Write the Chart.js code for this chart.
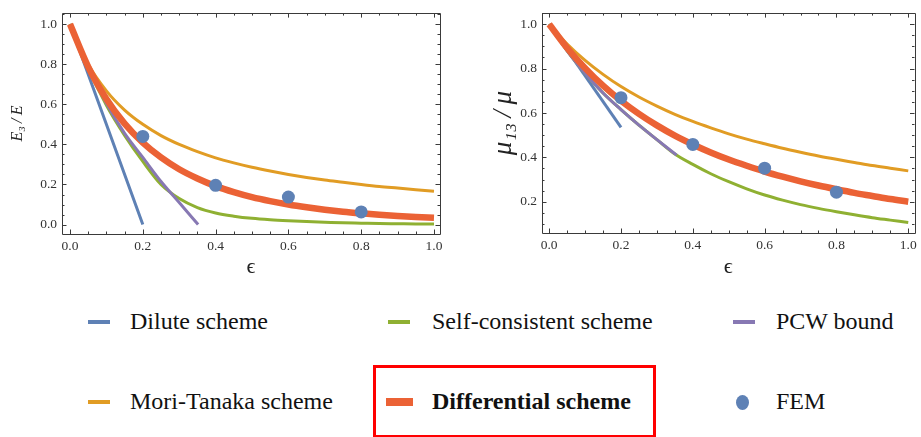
<!DOCTYPE html>
<html>
<head>
<meta charset="utf-8">
<script src="https://cdn.jsdelivr.net/npm/chart.js@4"></script>
<style>
  html, body { margin: 0; padding: 0; background: #fff; }
  body { width: 921px; height: 437px; position: relative; overflow: hidden; font-family: "Liberation Serif", "DejaVu Serif", serif; }
  canvas { position: absolute; top: 0; }
  #c1 { left: 0; }
  #c2 { left: 450px; }
  .leg { position: absolute; font-family: "Liberation Serif", "DejaVu Serif", serif; font-size: 24px; color: #111; line-height: 1; white-space: nowrap; }
  .mk { position: absolute; }
  #box { position: absolute; left: 373px; top: 365px; width: 277px; height: 67px; border: 3px solid #ff0000; }
</style>
</head>
<body>
<canvas id="c1" width="450" height="280"></canvas>
<canvas id="c2" width="471" height="280"></canvas>
<div id="legend"></div>
<div id="box"></div>
<script>
// ---------- data ----------
const seriesNames = ["Dilute scheme", "Self-consistent scheme", "PCW bound", "Mori-Tanaka scheme", "Differential scheme", "FEM"];
const seriesColors = ["#5E81B5", "#8FB032", "#8778B3", "#E19C24", "#EB6235", "#5E81B5"];

const epsGrid = [0, 0.05, 0.1, 0.15, 0.2, 0.25, 0.3, 0.35, 0.4, 0.45, 0.5, 0.55, 0.6, 0.65, 0.7, 0.75, 0.8, 0.85, 0.9, 0.95, 1.0];
const femEps = [0.2, 0.4, 0.6, 0.8];

// Left panel: E3/E
const E_diluteEps = [0, 0.2];
const E_dilute = [1, 0];
const E_selfConsistent = [1, 0.78, 0.595, 0.445, 0.315, 0.2, 0.13, 0.085, 0.058, 0.042, 0.031, 0.024, 0.019, 0.015, 0.012, 0.009, 0.007, 0.005, 0.004, 0.003, 0.003];
const E_pcwEps = [0, 0.05, 0.1, 0.15, 0.2, 0.25, 0.3, 0.352];
const E_pcw = [1, 0.79, 0.605, 0.455, 0.335, 0.215, 0.11, 0];
const E_moriTanaka = [1, 0.8, 0.667, 0.571, 0.5, 0.444, 0.4, 0.364, 0.333, 0.308, 0.286, 0.267, 0.25, 0.235, 0.222, 0.211, 0.2, 0.19, 0.182, 0.174, 0.166];
const E_differential = [1, 0.787, 0.627, 0.504, 0.409, 0.335, 0.276, 0.23, 0.192, 0.162, 0.137, 0.117, 0.1, 0.086, 0.074, 0.064, 0.056, 0.049, 0.043, 0.038, 0.034];
const E_fem = [0.44, 0.196, 0.137, 0.063];

// Right panel: mu13/mu
const M_diluteEps = [0, 0.2];
const M_dilute = [1, 0.535];
const M_selfConsistent = [1, 0.88, 0.78, 0.69, 0.615, 0.545, 0.48, 0.415, 0.368, 0.326, 0.29, 0.258, 0.23, 0.207, 0.187, 0.17, 0.155, 0.141, 0.128, 0.117, 0.106];
const M_pcwEps = [0, 0.05, 0.1, 0.15, 0.2, 0.25, 0.3, 0.355];
const M_pcw = [1, 0.88, 0.78, 0.69, 0.615, 0.545, 0.48, 0.41];
const M_moriTanaka = [1, 0.911, 0.837, 0.774, 0.719, 0.672, 0.631, 0.594, 0.562, 0.533, 0.506, 0.482, 0.461, 0.441, 0.423, 0.406, 0.391, 0.377, 0.363, 0.351, 0.339];
const M_differential = [1, 0.893, 0.802, 0.723, 0.655, 0.596, 0.544, 0.498, 0.458, 0.422, 0.39, 0.362, 0.336, 0.313, 0.292, 0.273, 0.256, 0.24, 0.226, 0.212, 0.2];
const M_fem = [0.669, 0.458, 0.351, 0.243];

// tick labels
const xTickValues = [0, 0.2, 0.4, 0.6, 0.8, 1.0];
const yTickValuesLeft = [0, 0.2, 0.4, 0.6, 0.8, 1.0];
const yTickValuesRight = [0.2, 0.4, 0.6, 0.8, 1.0];
const minorStep = 0.05;

// ---------- helpers ----------
const pts = (xs, ys) => xs.map((x, i) => ({ x: x, y: ys[i] }));
const SERIF = "'Liberation Serif', 'Times New Roman', serif";

function lineDs(i, xs, ys, width, order) {
  return {
    label: seriesNames[i], data: pts(xs, ys), showLine: true,
    borderColor: seriesColors[i], backgroundColor: seriesColors[i],
    borderWidth: width, pointRadius: 0, borderCapStyle: 'butt',
    cubicInterpolationMode: 'monotone', order: order
  };
}

const frameTicks = {
  id: 'frameTicks',
  afterDatasetsDraw(chart) {
    const { ctx, chartArea: a, scales } = chart;
    const xs = scales.x, ys = scales.y;
    ctx.save();
    ctx.strokeStyle = '#3a3a3a';
    ctx.lineWidth = 1;
    ctx.beginPath();
    ctx.rect(Math.round(a.left) + 0.5, Math.round(a.top) + 0.5, Math.round(a.right - a.left), Math.round(a.bottom - a.top));
    ctx.stroke();
    ctx.beginPath();
    const eps = 1e-6;
    for (let v = Math.ceil(xs.min / minorStep) * minorStep; v <= xs.max + eps; v += minorStep) {
      const vv = Math.round(v * 100) / 100;
      const major = Math.abs(vv * 5 - Math.round(vv * 5)) < 1e-6;
      const L = major ? 4.5 : 2.5;
      const px = Math.round(xs.getPixelForValue(vv)) + 0.5;
      ctx.moveTo(px, a.bottom); ctx.lineTo(px, a.bottom - L);
      ctx.moveTo(px, a.top); ctx.lineTo(px, a.top + L);
    }
    for (let v = Math.ceil(ys.min / minorStep) * minorStep; v <= ys.max + eps; v += minorStep) {
      const vv = Math.round(v * 100) / 100;
      const major = Math.abs(vv * 5 - Math.round(vv * 5)) < 1e-6;
      const L = major ? 4.5 : 2.5;
      const py = Math.round(ys.getPixelForValue(vv)) + 0.5;
      ctx.moveTo(a.left, py); ctx.lineTo(a.left + L, py);
      ctx.moveTo(a.right, py); ctx.lineTo(a.right - L, py);
    }
    ctx.stroke();
    ctx.restore();
  }
};

function makeChart(id, cfg) {
  const datasets = [
    lineDs(0, cfg.diluteEps, cfg.dilute, 3, 6),
    lineDs(1, epsGrid, cfg.sc, 3, 5),
    lineDs(2, cfg.pcwEps, cfg.pcw, 3, 4),
    lineDs(3, epsGrid, cfg.mt, 3, 3),
    lineDs(4, epsGrid, cfg.diff, 6.5, 2),
    {
      label: seriesNames[5], data: pts(femEps, cfg.fem), showLine: false,
      pointRadius: 6.5, pointBackgroundColor: seriesColors[5], pointBorderWidth: 0,
      backgroundColor: seriesColors[5], borderColor: seriesColors[5], order: 1
    }
  ];
  return new Chart(document.getElementById(id), {
    type: 'scatter',
    data: { datasets },
    options: {
      responsive: false, animation: false, devicePixelRatio: 1,
      layout: { padding: { top: 1, right: cfg.padRight, left: 0, bottom: 0 } },
      plugins: { legend: { display: false }, tooltip: { enabled: false } },
      scales: {
        x: {
          type: 'linear', min: cfg.xmin, max: cfg.xmax,
          afterBuildTicks: s => { s.ticks = xTickValues.map(v => ({ value: v })); },
          afterFit: s => { s.height = 280 - cfg.bottom; },
          grid: { display: false, drawTicks: false }, border: { display: false },
          ticks: { color: '#333', font: { family: SERIF, size: 13.5 }, padding: 4, maxRotation: 0, autoSkip: false,
                   callback: v => v.toFixed(1) },
          title: { display: true, text: 'ϵ', color: '#222', font: { family: SERIF, size: 22 }, padding: { top: 0, bottom: 0 } }
        },
        y: {
          type: 'linear', min: cfg.ymin, max: cfg.ymax,
          afterBuildTicks: s => { s.ticks = cfg.yTicks.map(v => ({ value: v })); },
          afterFit: s => { s.width = cfg.yWidth; },
          grid: { display: false, drawTicks: false }, border: { display: false },
          ticks: { color: '#333', font: { family: SERIF, size: 13.5 }, padding: 5, autoSkip: false,
                   callback: v => v.toFixed(1) },
          title: { display: true, text: cfg.yTitle, color: '#222', font: { family: SERIF, size: cfg.yTitleSize, style: 'italic' }, padding: { top: cfg.yTitlePad, bottom: 0 } }
        }
      }
    },
    plugins: [frameTicks]
  });
}

makeChart('c1', {
  diluteEps: E_diluteEps, dilute: E_dilute, sc: E_selfConsistent, pcwEps: E_pcwEps, pcw: E_pcw,
  mt: E_moriTanaka, diff: E_differential, fem: E_fem,
  xmin: -0.022, xmax: 1.0165, ymin: -0.047, ymax: 1.055, yTicks: yTickValuesLeft,
  padRight: 10, bottom: 234, yWidth: 62, yTitle: 'E₃\u2009/\u2009E', yTitleSize: 16, yTitlePad: 8
});
makeChart('c2', {
  diluteEps: M_diluteEps, dilute: M_dilute, sc: M_selfConsistent, pcwEps: M_pcwEps, pcw: M_pcw,
  mt: M_moriTanaka, diff: M_differential, fem: M_fem,
  xmin: -0.02, xmax: 1.0174, ymin: 0.059, ymax: 1.05, yTicks: yTickValuesRight,
  padRight: 4, bottom: 233, yWidth: 92, yTitle: 'μ₁₃\u2009/\u2009μ', yTitleSize: 27, yTitlePad: 38
});

// ---------- legend (HTML text) ----------
const legendItems = [
  { i: 0, x: 88, tx: 130, y: 322, kind: 'line' },
  { i: 1, x: 388, tx: 432, y: 322, kind: 'line' },
  { i: 2, x: 733, tx: 776, y: 322, kind: 'line' },
  { i: 3, x: 88, tx: 130, y: 402, kind: 'line' },
  { i: 4, x: 386, tx: 432, y: 402, kind: 'thick' },
  { i: 5, x: 736, tx: 776, y: 402, kind: 'dot' }
];
const legend = document.getElementById('legend');
legendItems.forEach(it => {
  const m = document.createElement('div');
  m.className = 'mk';
  m.style.background = seriesColors[it.i];
  if (it.kind === 'line') { m.style.left = it.x + 'px'; m.style.top = (it.y - 2) + 'px'; m.style.width = '22px'; m.style.height = '4px'; }
  else if (it.kind === 'thick') { m.style.left = it.x + 'px'; m.style.top = (it.y - 4) + 'px'; m.style.width = '27px'; m.style.height = '8px'; }
  else { m.style.left = it.x + 'px'; m.style.top = (it.y - 7) + 'px'; m.style.width = '13px'; m.style.height = '15px'; m.style.borderRadius = '50%'; }
  legend.appendChild(m);
  const t = document.createElement('div');
  t.className = 'leg';
  t.textContent = seriesNames[it.i];
  t.style.left = it.tx + 'px';
  t.style.top = (it.y - 13) + 'px';
  if (it.kind === 'thick') t.style.fontWeight = 'bold';
  legend.appendChild(t);
});
</script>
</body>
</html>
